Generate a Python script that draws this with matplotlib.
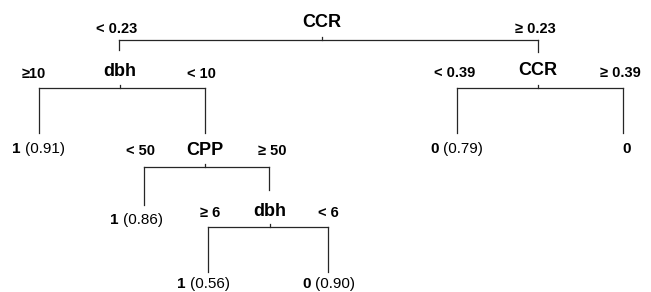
import matplotlib
matplotlib.use("Agg")
import matplotlib.pyplot as plt

plt.rcParams['font.family'] = ['Liberation Sans', 'DejaVu Sans']

# tree content
node_names = ["CCR", "dbh", "CCR", "CPP", "dbh"]
split_left = ["< 0.23", "≥10", "< 0.39", "< 50", "≥ 6"]
split_right = ["≥ 0.23", "< 10", "≥ 0.39", "≥ 50", "< 6"]
leaf_class = ["1", "0", "0", "1", "1", "0"]
leaf_prob = ["(0.91)", "(0.79)", "", "(0.86)", "(0.56)", "(0.90)"]

# layout in pixel space (x, bar y, label baseline)
node_x = [322, 120, 538, 205, 270]
node_bar = [40, 88, 88, 167, 227]
node_base = [27, 76, 75, 155, 216]
child_x = [(119, 538), (39, 205), (457, 623), (144, 269), (208, 328)]
child_end = [(50, 52), (133, 133), (133, 133), (205, 190), (272, 272)]
split_lx = [117, 34, 455, 140, 210]
split_rx = [535, 201, 620, 272, 328]
split_base = [33, 78, 77, 155, 217]
leaf_x = [12, 430, 622, 110, 177, 302]
leaf_base = [153, 153, 153, 224, 288, 288]

line_col = "#262626"

fig = plt.figure(figsize=(6.51, 2.92), dpi=100)
ax = fig.add_axes([0, 0, 1, 1])
ax.set_xlim(0, 651)
ax.set_ylim(292, 0)
ax.axis("off")

for i, name in enumerate(node_names):
    x = node_x[i]
    yb = node_bar[i]
    xl, xr = child_x[i]
    el, er = child_end[i]
    ax.plot([x, x], [yb - 3, yb], color=line_col, lw=0.9)
    ax.plot([xl, xr], [yb, yb], color=line_col, lw=0.9)
    ax.plot([xl, xl], [yb, el], color=line_col, lw=0.9)
    ax.plot([xr, xr], [yb, er], color=line_col, lw=0.9)
    ax.text(x, node_base[i], name, fontsize=13, fontweight="bold",
            ha="center", va="baseline")
    ax.text(split_lx[i], split_base[i], split_left[i], fontsize=10.5,
            fontweight="bold", ha="center", va="baseline")
    ax.text(split_rx[i], split_base[i], split_right[i], fontsize=10.5,
            fontweight="bold", ha="center", va="baseline")

for i, cls in enumerate(leaf_class):
    t = ax.text(leaf_x[i], leaf_base[i], cls, fontsize=11, fontweight="bold",
                ha="left", va="baseline")
    if leaf_prob[i]:
        ax.annotate(leaf_prob[i], xy=(1, 0), xycoords=t, xytext=(3, 0),
                    textcoords="offset points", fontsize=11,
                    ha="left", va="bottom")

fig.savefig("out.png", dpi=100)
